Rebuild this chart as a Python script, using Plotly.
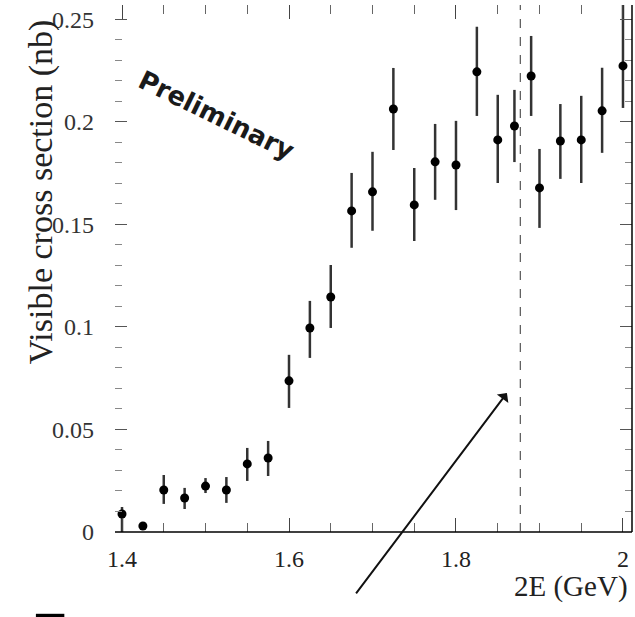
import plotly.graph_objects as go

# Data
energy = [1.400, 1.425, 1.450, 1.475, 1.500, 1.525, 1.550, 1.575, 1.600, 1.625,
          1.650, 1.675, 1.700, 1.725, 1.750, 1.775, 1.800, 1.825, 1.850, 1.870,
          1.890, 1.900, 1.925, 1.950, 1.975, 2.000]
xsec = [0.0088, 0.0029, 0.0205, 0.0166, 0.0224, 0.0205, 0.0332, 0.0361, 0.0737, 0.0995,
        0.1146, 0.1566, 0.1659, 0.2063, 0.1595, 0.1805, 0.1790, 0.2244, 0.1912, 0.1980,
        0.2224, 0.1678, 0.1907, 0.1912, 0.2054, 0.2273]
err_up = [0.0034, 0.0015, 0.0073, 0.0049, 0.0039, 0.0063, 0.0078, 0.0083, 0.0127, 0.0132,
          0.0156, 0.0185, 0.0195, 0.0200, 0.0180, 0.0185, 0.0215, 0.0220, 0.0220, 0.0176,
          0.0195, 0.0190, 0.0180, 0.0215, 0.0210, 0.0300]
err_down = [0.0088, 0.0015, 0.0068, 0.0054, 0.0034, 0.0063, 0.0083, 0.0088, 0.0132, 0.0146,
            0.0151, 0.0180, 0.0190, 0.0200, 0.0176, 0.0185, 0.0220, 0.0215, 0.0210, 0.0176,
            0.0195, 0.0195, 0.0185, 0.0210, 0.0205, 0.0205]
threshold = 1.877
y_ticks = [0, 0.05, 0.1, 0.15, 0.2, 0.25]
y_tick_labels = ["0", "0.05", "0.1", "0.15", "0.2", "0.25"]
x_ticks = [1.4, 1.6, 1.8, 2.0]
x_tick_labels = ["1.4", "1.6", "1.8", "2"]

serif = "Liberation Serif, Times New Roman, serif"

fig = go.Figure()
fig.add_trace(go.Scatter(
    x=energy, y=xsec, mode="markers",
    marker=dict(color="black", size=9),
    error_y=dict(type="data", symmetric=False, array=err_up, arrayminus=err_down,
                 color="#333333", thickness=2.5, width=0),
    showlegend=False, cliponaxis=True,
))

fig.update_layout(
    width=635, height=617,
    margin=dict(l=115, r=3, t=5, b=85),
    paper_bgcolor="white", plot_bgcolor="white",
    font=dict(family=serif, color="#222222"),
    xaxis=dict(range=[1.3916, 2.0108], showgrid=False, zeroline=False, showline=False,
               tickmode="array", tickvals=x_ticks, ticktext=x_tick_labels,
               ticks="inside", ticklen=14, tickwidth=1.2, tickcolor="#444444",
               mirror="ticks", ticklabelstandoff=10,
               minor=dict(dtick=0.05, tick0=1.4, ticks="inside", ticklen=9, tickcolor="#666666"),
               tickfont=dict(family=serif, size=24, color="#222222")),
    yaxis=dict(range=[0, 0.257], showgrid=False, zeroline=False, showline=False,
               tickmode="array", tickvals=y_ticks, ticktext=y_tick_labels,
               ticks="inside", ticklen=12, tickwidth=1.2, tickcolor="#555555",
               mirror="ticks", ticklabelstandoff=20,
               minor=dict(dtick=0.01, tick0=0, ticks="inside", ticklen=7, tickcolor="#888888"),
               tickfont=dict(family=serif, size=24, color="#333333")),
)

# axis lines: bottom and right only
fig.add_shape(type="line", xref="paper", yref="paper", x0=0, x1=1, y0=0, y1=0,
              line=dict(color="black", width=1.5))
fig.add_shape(type="line", xref="paper", yref="paper", x0=1, x1=1, y0=0, y1=1,
              line=dict(color="black", width=1.5))
# threshold dashed line
fig.add_shape(type="line", xref="x", yref="paper", x0=threshold, x1=threshold, y0=0, y1=1,
              line=dict(color="#333333", width=1, dash="dash"))
# legend-like mark at bottom left (cut off)
fig.add_shape(type="line", xref="paper", yref="paper", x0=-0.153, x1=-0.098, y0=-0.159, y1=-0.159,
              line=dict(color="black", width=4))

fig.add_annotation(text="Visible cross section (nb)", xref="paper", yref="paper",
                   x=-0.143, y=0.645, textangle=-90, showarrow=False,
                   font=dict(family=serif, size=34, color="#222222"),
                   xanchor="center", yanchor="middle")
fig.add_annotation(text="2E (GeV)", xref="paper", yref="paper",
                   x=0.996, y=-0.103, showarrow=False,
                   font=dict(family=serif, size=29, color="#222222"),
                   xanchor="right", yanchor="middle")
fig.add_annotation(text="<b>Preliminary</b>", xref="x", yref="y",
                   x=1.5126, y=0.2034, showarrow=False, textangle=26,
                   font=dict(family="DejaVu Sans, sans-serif", size=26, color="#1a1a1a"))
fig.add_annotation(text="", xref="x", yref="y", x=1.861, y=0.0678,
                   axref="x", ayref="y", ax=1.679, ay=-0.0307,
                   showarrow=True, arrowhead=1, arrowsize=1.2, arrowwidth=2, arrowcolor="#111111")

fig.write_html("out.html")
